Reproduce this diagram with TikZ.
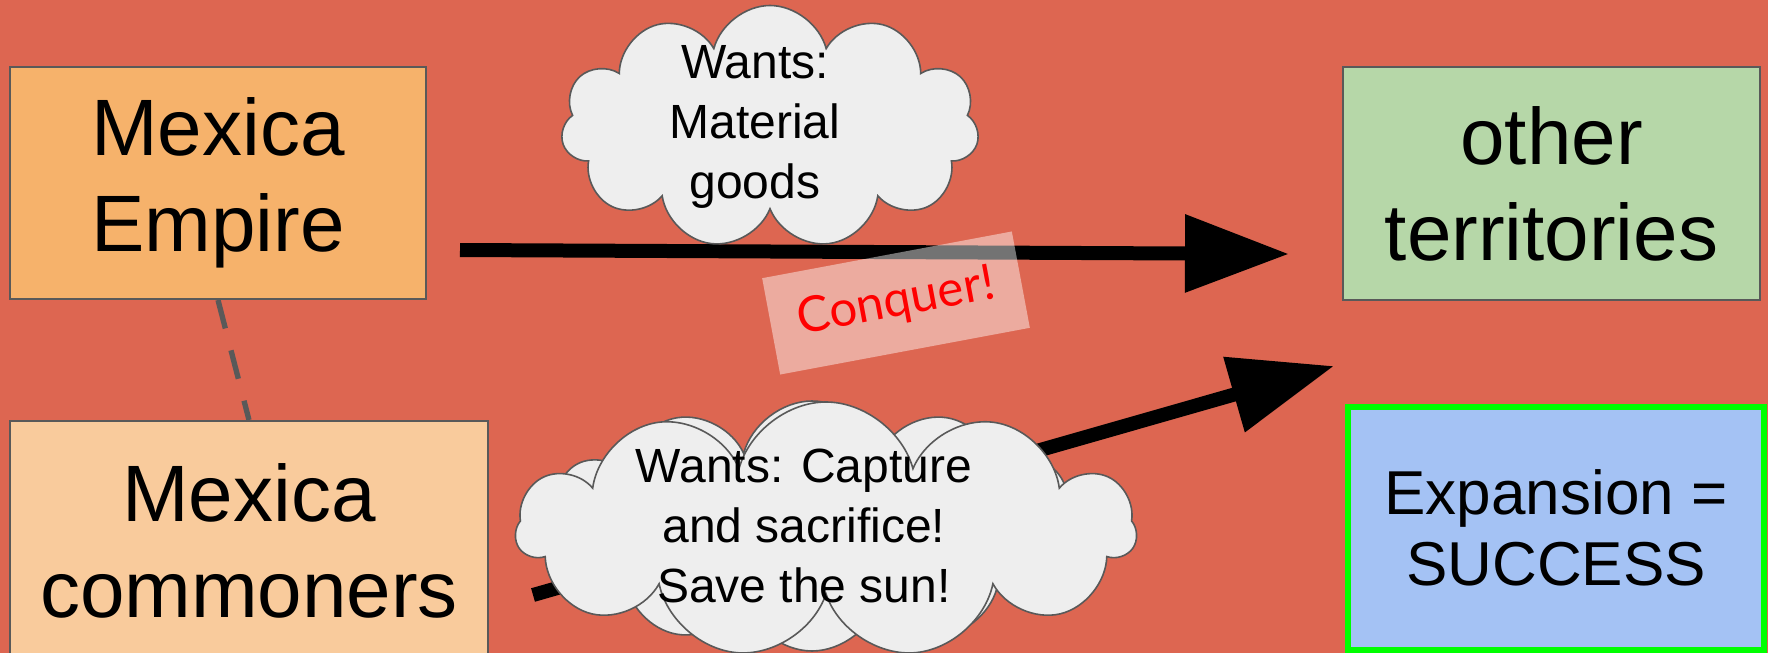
\documentclass[tikz,border=0pt]{standalone}
\usepackage{fontspec}
\setmainfont{Liberation Sans}
\newfontfamily\conqfont{Lato}
\usetikzlibrary{shapes.symbols,arrows.meta}
\definecolor{bgred}{HTML}{DD6651}
\definecolor{boxgray}{HTML}{595959}
\definecolor{empireorange}{HTML}{F6B26B}
\definecolor{commonorange}{HTML}{F9CB9C}
\definecolor{terrgreen}{HTML}{B6D7A8}
\definecolor{succblue}{HTML}{A4C2F4}
\definecolor{cloudfill}{HTML}{EEEEEE}
\tikzset{
  bigbox/.style={draw=boxgray, line width=1.5pt, align=center, inner sep=0pt,
    font=\fontsize{60}{72}\selectfont},
  thought/.style={cloud, draw=boxgray, fill=cloudfill, line width=1.2pt,
    cloud ignores aspect, inner sep=0pt},
  thoughttext/.style={align=center, inner sep=0pt, font=\fontsize{36}{45}\selectfont},
  bigarrow/.style={line width=10.5pt, -{Triangle[length=78pt,width=56pt]}},
}
\begin{document}
\begin{tikzpicture}[x=0.75pt,y=-0.75pt]
\fill[bgred] (0,0) rectangle (1768,653);
\useasboundingbox (0,0) rectangle (1768,653);

% boxes
\node[bigbox, fill=empireorange, minimum width=416*0.75pt, minimum height=232*0.75pt]
  (empire) at (218,183) {Mexica\\Empire};
\node[bigbox, fill=commonorange, minimum width=478*0.75pt, minimum height=240*0.75pt]
  (commoners) at (249,541) {Mexica\\commoners};
\node[bigbox, fill=terrgreen, minimum width=417*0.75pt, minimum height=233*0.75pt]
  (territories) at (1551.5,183.5) {other\\territories};
\node[draw=green, line width=4.5pt, fill=succblue, align=center, inner sep=0pt,
  minimum width=416*0.75pt, minimum height=243*0.75pt,
  font=\fontsize{46.5}{53}\selectfont]
  (success) at (1556,528) {Expansion =\\SUCCESS};

% dashed link
\draw[boxgray, line width=4pt, dash pattern=on 22pt off 17pt] (empire.south) -- (commoners.north);

% arrows
\coordinate (a1start) at (460,250);
\coordinate (a1tip) at (1289,254);
\coordinate (a2start) at (533,595);
\coordinate (a2tip) at (1334,366);
\draw[bigarrow] (a1start) -- (a1tip);
\draw[bigarrow] (a2start) -- (a2tip);

% clouds
\node[thought, cloud puffs=11, minimum width=418*0.75pt, minimum height=243*0.75pt]
  (cloudA) at (770,127) {};
\node[thoughttext] (cloudAtext) at (755,127) {Wants:\\Material\\goods};
\node[thought, cloud puffs=12, minimum width=540*0.75pt, minimum height=250*0.75pt]
  (cloudBback) at (812,526) {};
\node[thought, cloud puffs=11, minimum width=620*0.75pt, minimum height=256*0.75pt]
  (cloudB) at (826,530) {};
\node[thoughttext] (cloudBtext) at (804,526) {Wants: Capture\\and sacrifice!\\Save the sun!};

% conquer label
\node[fill=white, fill opacity=0.45, text opacity=1, text=red, rotate=10.6,
  minimum width=254*0.75pt, minimum height=98*0.75pt, inner sep=0pt,
  font=\conqfont\fontsize{37}{40}\selectfont]
  (conquer) at (896,303) {Conquer!};
\end{tikzpicture}
\end{document}
